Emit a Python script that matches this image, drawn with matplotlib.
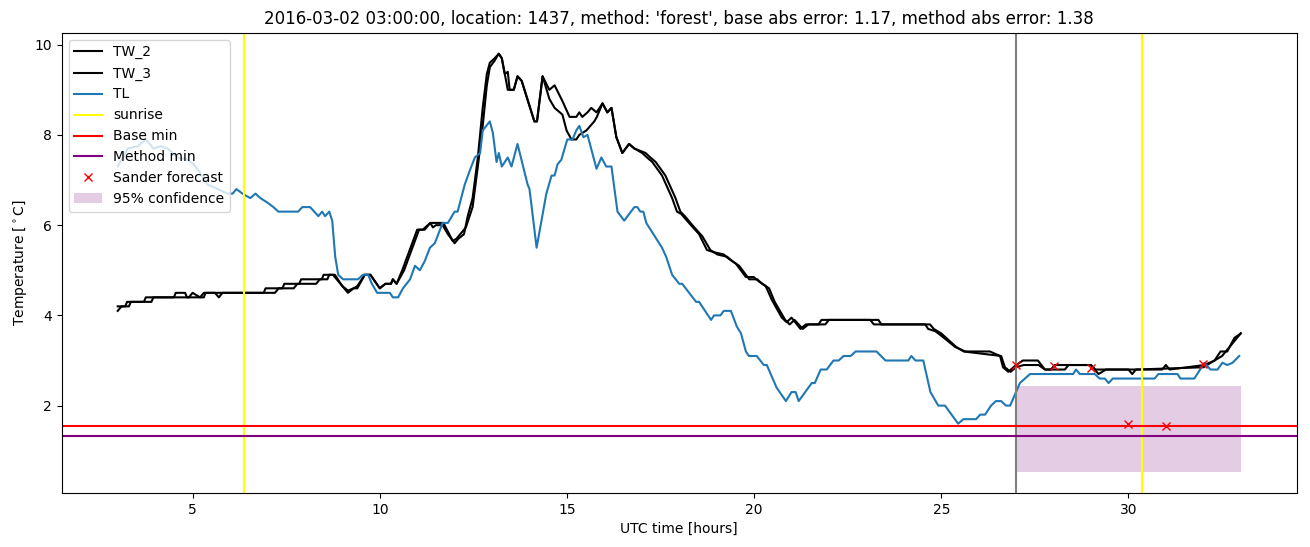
import matplotlib
matplotlib.use("Agg")
import matplotlib.pyplot as plt

title = "2016-03-02 03:00:00, location: 1437, method: 'forest', base abs error: 1.17, method abs error: 1.38"

# breakpoints (hour, value)
tw2_t = [3.0, 3.1, 3.3, 3.35, 3.9, 3.95, 4.5, 4.55, 4.8, 4.85, 5.3, 5.35, 5.6, 5.7, 5.8, 6.9, 6.95,
         7.4, 7.45, 7.85, 7.9, 8.45, 8.5, 8.75, 8.95, 9.15, 9.3, 9.4, 9.6, 9.75, 10.0, 10.15, 10.3,
         10.35, 10.45, 10.6, 10.8, 11.0, 11.15, 11.35, 11.42, 11.5, 11.68, 11.82, 12.0, 12.1, 12.25,
         12.35, 12.48, 12.62, 12.75, 12.86, 12.94, 13.07, 13.18, 13.26, 13.34, 13.42, 13.47, 13.58,
         13.68, 13.79, 14.13, 14.2, 14.35, 14.53, 14.67, 14.88, 15.07, 15.25, 15.33, 15.41, 15.55,
         15.65, 15.79, 15.95, 16.08, 16.19, 16.32, 16.48, 16.66, 16.8, 17.01, 17.14, 17.28, 17.54,
         17.81, 17.94, 18.05, 18.26, 18.53, 18.74, 18.93, 19.19, 19.33, 19.51, 19.78, 19.99, 20.13,
         20.31, 20.47, 20.74, 20.87, 21.0, 21.24, 21.38, 21.72, 21.8, 23.32, 23.4, 24.57, 24.65,
         24.84, 25.0, 25.37, 25.64, 26.3, 26.57, 26.65, 26.79, 27.0, 27.18, 27.58, 27.77, 27.93,
         28.03, 28.99, 29.12, 30.9, 31.0, 31.1, 32.03, 32.3, 32.46, 32.64, 32.83, 33.0]
tw2_v = [4.1, 4.2, 4.2, 4.3, 4.3, 4.4, 4.4, 4.5, 4.5, 4.4, 4.4, 4.5, 4.5, 4.4, 4.5, 4.5, 4.6,
         4.6, 4.7, 4.7, 4.8, 4.8, 4.9, 4.9, 4.7, 4.5, 4.6, 4.6, 4.9, 4.9, 4.6, 4.7, 4.7,
         4.8, 4.7, 5.0, 5.45, 5.9, 5.9, 6.05, 5.95, 6.0, 6.0, 5.8, 5.6, 5.7, 5.8,
         6.2, 6.6, 7.5, 8.6, 9.35, 9.6, 9.7, 9.8, 9.7, 9.35, 9.4, 9.0, 9.0,
         9.3, 9.2, 8.3, 8.3, 9.3, 9.0, 9.1, 8.75, 8.4, 8.4, 8.5, 8.4, 8.5,
         8.6, 8.5, 8.7, 8.5, 8.6, 7.95, 7.6, 7.8, 7.7, 7.6, 7.5, 7.4, 7.1,
         6.6, 6.3, 6.25, 6.05, 5.8, 5.45, 5.4, 5.35, 5.25, 5.15, 4.85, 4.85, 4.75,
         4.65, 4.35, 3.95, 3.85, 3.95, 3.7, 3.8, 3.8, 3.9, 3.9, 3.8, 3.8, 3.7,
         3.65, 3.55, 3.3, 3.2, 3.2, 3.1, 2.85, 2.75, 2.9, 3.0, 3.0, 2.8, 2.8,
         2.9, 2.9, 2.8, 2.8, 2.9, 2.8, 2.9, 3.0, 3.2, 3.2, 3.5, 3.6]

tw3_t = [3.0, 3.2, 3.25, 3.7, 3.75, 4.9, 5.0, 5.2, 5.3, 7.2, 7.3, 7.7, 7.8, 8.3, 8.4, 8.6, 8.65,
         8.8, 9.0, 9.15, 9.3, 9.4, 9.6, 9.75, 10.0, 10.15, 10.3, 10.35, 10.45, 10.65, 10.85, 11.05,
         11.2, 11.35, 11.7, 11.95, 12.05, 12.3, 12.48, 12.62, 12.75, 12.86, 12.94, 13.07, 13.18,
         13.26, 13.34, 13.42, 13.58, 13.68, 13.79, 14.13, 14.2, 14.35, 14.53, 14.67, 14.88, 14.99,
         15.12, 15.25, 15.33, 15.52, 15.73, 15.8, 15.95, 16.08, 16.19, 16.32, 16.48, 16.66, 16.8,
         17.1, 17.23, 17.37, 17.63, 17.9, 18.03, 18.15, 18.35, 18.62, 18.83, 19.02, 19.28, 19.42,
         19.6, 19.87, 20.08, 20.22, 20.4, 20.55, 20.83, 20.95, 21.08, 21.3, 21.45, 21.9, 22.0,
         23.1, 23.2, 24.7, 24.8, 25.0, 25.4, 25.6, 26.6, 26.7, 26.85, 27.0, 27.2, 27.6, 27.77,
         28.3, 28.4, 29.0, 29.2, 29.4, 30.0, 30.1, 30.2, 32.0, 32.3, 32.5, 32.7, 33.0]
tw3_v = [4.2, 4.2, 4.3, 4.3, 4.4, 4.4, 4.5, 4.4, 4.5, 4.5, 4.6, 4.6, 4.7, 4.7, 4.8, 4.8, 4.9,
         4.9, 4.65, 4.55, 4.6, 4.65, 4.9, 4.9, 4.6, 4.7, 4.7, 4.8, 4.7, 5.0, 5.45, 5.9,
         5.9, 6.05, 6.05, 5.65, 5.7, 5.95, 6.4, 7.3, 8.2, 9.1, 9.5, 9.65, 9.8,
         9.7, 9.35, 9.0, 9.0, 9.3, 9.2, 8.3, 8.3, 9.3, 8.8, 8.6, 8.45, 8.1,
         7.9, 7.9, 8.0, 8.1, 8.3, 8.4, 8.7, 8.5, 8.6, 7.95, 7.6, 7.8, 7.7,
         7.6, 7.5, 7.4, 7.1, 6.6, 6.3, 6.2, 6.0, 5.75, 5.45, 5.35, 5.3, 5.2,
         5.1, 4.8, 4.8, 4.7, 4.6, 4.3, 3.9, 3.8, 3.9, 3.7, 3.8, 3.8, 3.9,
         3.9, 3.8, 3.8, 3.7, 3.6, 3.3, 3.2, 3.1, 2.85, 2.75, 2.85, 2.9, 2.9, 2.8,
         2.8, 2.9, 2.9, 2.7, 2.8, 2.8, 2.7, 2.8, 2.85, 3.0, 3.1, 3.3, 3.6]

tl_t = [3.0, 3.27, 3.54, 3.75, 3.96, 4.15, 4.33, 4.6, 4.87, 5.03, 5.21, 5.4, 5.67, 5.93, 6.07,
        6.17, 6.33, 6.54, 6.68, 6.81, 7.0, 7.16, 7.29, 7.82, 7.93, 8.14, 8.36, 8.46, 8.54, 8.65,
        8.73, 8.81, 8.89, 9.02, 9.42, 9.55, 9.69, 9.79, 9.93, 10.27, 10.35, 10.49, 10.62, 10.81,
        10.94, 11.07, 11.2, 11.34, 11.47, 11.68, 11.82, 12.0, 12.08, 12.27, 12.4, 12.54, 12.68,
        12.75, 12.94, 13.02, 13.12, 13.18, 13.26, 13.42, 13.52, 13.68, 13.95, 14.0, 14.19, 14.45,
        14.59, 14.67, 14.75, 14.85, 15.01, 15.15, 15.25, 15.33, 15.44, 15.55, 15.79, 15.92, 16.05,
        16.19, 16.35, 16.53, 16.8, 16.88, 16.96, 17.04, 17.12, 17.54, 17.65, 17.81, 18.0, 18.08,
        18.45, 18.53, 18.85, 18.93, 19.1, 19.19, 19.38, 19.54, 19.65, 19.78, 19.86, 20.07, 20.26,
        20.34, 20.6, 20.85, 21.0, 21.11, 21.19, 21.54, 21.62, 21.78, 21.94, 22.12, 22.26, 22.39,
        22.58, 22.71, 23.27, 23.51, 24.12, 24.2, 24.31, 24.52, 24.71, 24.92, 25.1, 25.45, 25.59,
        25.93, 26.04, 26.17, 26.33, 26.46, 26.6, 26.73, 26.84, 26.97, 27.1, 27.37, 28.52, 28.6,
        28.7, 29.1, 29.23, 29.37, 29.47, 29.58, 30.7, 30.8, 31.31, 31.39, 31.76, 32.03, 32.19,
        32.38, 32.51, 32.64, 32.78, 32.96]
tl_v = [7.3, 7.7, 7.75, 7.9, 7.7, 7.75, 7.7, 7.5, 7.45, 7.35, 7.15, 6.9, 6.8, 6.7, 6.7,
        6.8, 6.7, 6.6, 6.7, 6.6, 6.5, 6.4, 6.3, 6.3, 6.4, 6.4, 6.2, 6.3, 6.2, 6.3,
        6.1, 5.3, 4.9, 4.8, 4.8, 4.9, 4.9, 4.7, 4.5, 4.5, 4.4, 4.4, 4.6, 4.8,
        5.1, 5.0, 5.2, 5.5, 5.6, 6.05, 6.05, 6.3, 6.3, 6.9, 7.2, 7.5, 7.6,
        8.1, 8.3, 8.05, 7.4, 7.6, 7.3, 7.5, 7.3, 7.8, 6.9, 6.8, 5.5, 6.7,
        7.1, 7.1, 7.35, 7.45, 7.9, 7.9, 8.1, 8.2, 7.95, 8.0, 7.25, 7.5, 7.3,
        7.3, 6.3, 6.1, 6.4, 6.4, 6.3, 6.3, 6.05, 5.5, 5.3, 4.9, 4.7, 4.7,
        4.3, 4.3, 3.9, 4.0, 4.0, 4.1, 4.1, 3.75, 3.6, 3.2, 3.1, 3.1, 2.9,
        2.9, 2.4, 2.1, 2.3, 2.3, 2.1, 2.5, 2.5, 2.8, 2.8, 3.0, 3.0, 3.1,
        3.1, 3.2, 3.2, 3.0, 3.0, 3.1, 3.0, 3.0, 2.3, 2.0, 2.0, 1.6, 1.7,
        1.7, 1.8, 1.8, 2.0, 2.1, 2.1, 2.0, 2.0, 2.25, 2.5, 2.7, 2.7, 2.8,
        2.7, 2.7, 2.6, 2.6, 2.5, 2.6, 2.6, 2.7, 2.7, 2.6, 2.6, 2.95, 2.8,
        2.8, 2.95, 2.9, 2.95, 3.1]

sunrise = [6.36, 30.35]
forecast_start = 27.0
base_min = 1.54
method_min = 1.32
sander_t = [27, 28, 29, 30, 31, 32]
sander_v = [2.9, 2.87, 2.83, 1.6, 1.54, 2.93]
conf_t = [27.0, 33.0]
conf_low = [0.53, 0.53]
conf_high = [2.43, 2.43]

fig, ax = plt.subplots(figsize=(13.1, 5.47), dpi=100)
plt.subplots_adjust(left=0.047, right=0.990, bottom=0.099, top=0.94)

ax.plot(tw2_t, tw2_v, color="black", label="TW_2")
ax.plot(tw3_t, tw3_v, color="black", label="TW_3")
ax.plot(tl_t, tl_v, color="C0", label="TL")
for i, s in enumerate(sunrise):
    ax.axvline(s, color="yellow", label="sunrise" if i == 0 else None)
ax.axvline(forecast_start, color="gray")
ax.axhline(base_min, color="red", label="Base min")
ax.axhline(method_min, color="purple", label="Method min")
ax.plot(sander_t, sander_v, "x", color="red", label="Sander forecast")
ax.fill_between(conf_t, conf_low, conf_high, color="purple", alpha=0.2, linewidth=0,
                label="95% confidence")

ax.set_title(title)
ax.set_xlabel("UTC time [hours]")
ax.set_ylabel("Temperature [$^\\circ$C]")
ax.legend(loc="upper left")

plt.savefig("out.png")
